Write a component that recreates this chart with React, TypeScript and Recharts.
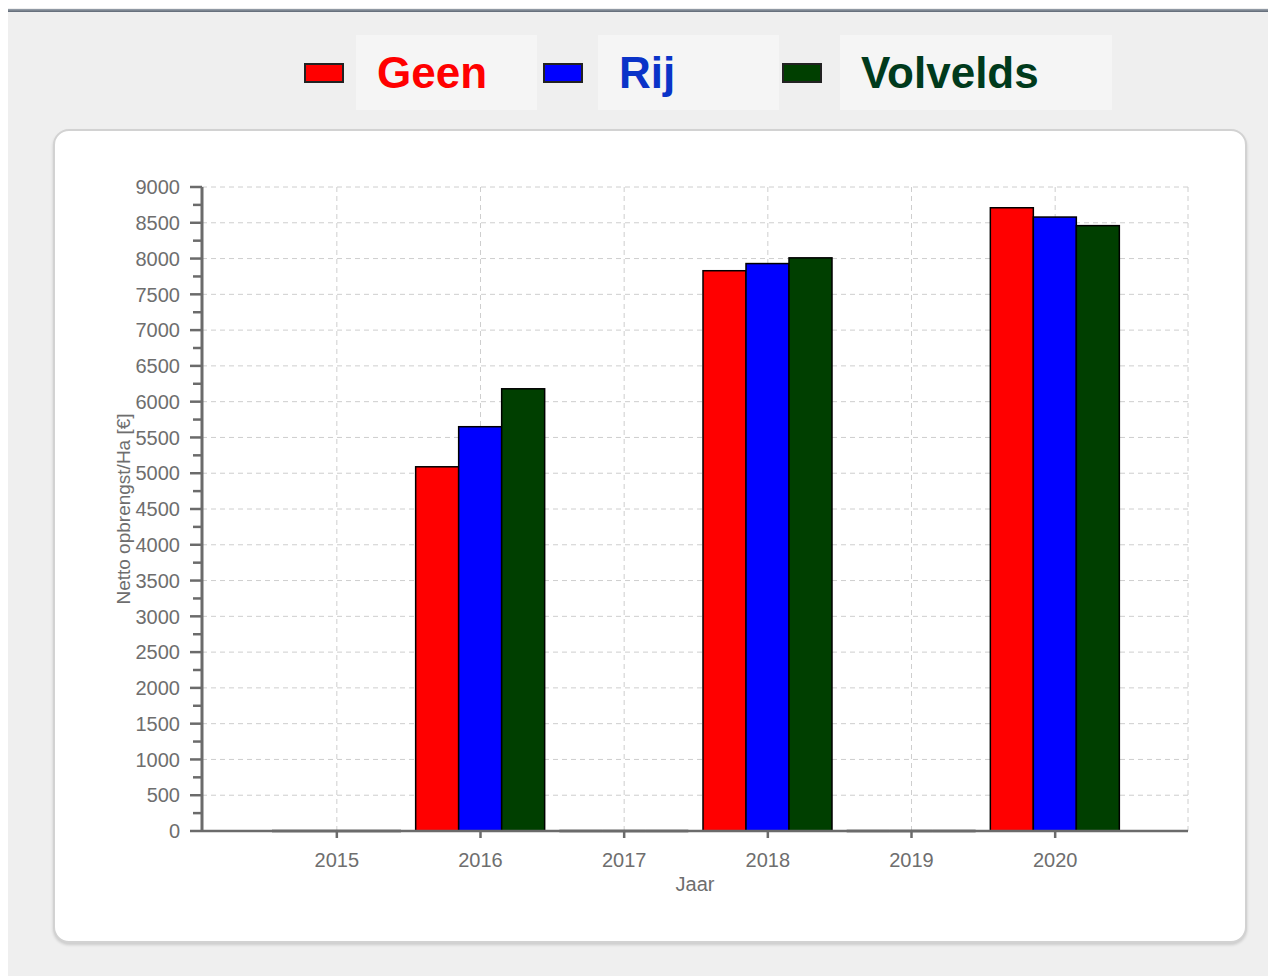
import React from 'react'
import { BarChart, Bar, XAxis, YAxis, CartesianGrid } from 'recharts'

// values (netto opbrengst per ha, euro)
const years = ['2015', '2016', '2017', '2018', '2019', '2020']
const geen = [0, 5090, 0, 7830, 0, 8710]
const rij = [0, 5650, 0, 7930, 0, 8580]
const volvelds = [0, 6180, 0, 8010, 0, 8460]

const majorTicks = [0, 500, 1000, 1500, 2000, 2500, 3000, 3500, 4000, 4500, 5000, 5500, 6000, 6500, 7000, 7500, 8000, 8500, 9000]
const yMax = 9000

const series = [
  { key: 'geen', name: 'Geen', fill: '#ff0000', text: '#ff0000' },
  { key: 'rij', name: 'Rij', fill: '#0000ff', text: '#0a33c8' },
  { key: 'volvelds', name: 'Volvelds', fill: '#003f00', text: '#003a1c' },
]

const data = years.map((year, i) => ({ year, geen: geen[i], rij: rij[i], volvelds: volvelds[i] }))

// minor ticks sit halfway between the labelled ones
const allTicks = majorTicks.flatMap((v, i) => (i === 0 ? [v] : [(majorTicks[i - 1] + v) / 2, v]))

const AXIS = '#6b6b6b'
const TEXT = '#6e6e6e'
const FONT = "'Liberation Sans', Arial, sans-serif"

const YTick = (props: any) => {
  const { x, y, payload } = props
  const major = majorTicks.includes(payload.value)
  return (
    <g>
      <line x1={x - (major ? 12 : 9)} x2={x} y1={y} y2={y} stroke={AXIS} strokeWidth={2.5} />
      {major && (
        <text x={x - 22} y={y} dy="0.36em" textAnchor="end" fill={TEXT} fontSize={20} fontFamily={FONT}>
          {payload.value}
        </text>
      )}
    </g>
  )
}

const BarShape = (props: any) => {
  const { x, y, width, height, fill } = props
  if (!height) {
    return <line x1={x} x2={x + width} y1={y} y2={y} stroke="#2a2a2a" strokeWidth={2.5} />
  }
  return <rect x={x} y={y} width={width} height={height} fill={fill} stroke="#000" strokeWidth={1.5} />
}

const legendPos = [
  { swatch: 296, box: 348, w: 181 },
  { swatch: 535, box: 590, w: 181 },
  { swatch: 774, box: 832, w: 272 },
]

export default function App() {
  return (
    <div style={{ position: 'relative', width: 1268, height: 968, background: '#efefef', overflow: 'hidden', fontFamily: FONT }}>
      <div style={{ position: 'absolute', left: 0, top: 1, width: 1268, height: 3, background: 'linear-gradient(#9aa3ad, #5d6673)' }} />

      {series.map((s, i) => (
        <React.Fragment key={s.key}>
          <div
            style={{
              position: 'absolute', left: legendPos[i].swatch, top: 55, width: 40, height: 20,
              boxSizing: 'border-box', background: s.fill, border: '2px solid #222',
            }}
          />
          <div
            style={{
              position: 'absolute', left: legendPos[i].box, top: 27, width: legendPos[i].w, height: 75,
              background: '#f5f5f5', display: 'flex', alignItems: 'center', paddingLeft: 21, boxSizing: 'border-box',
              color: s.text, fontSize: 44, fontWeight: 'bold',
            }}
          >
            {s.name}
          </div>
        </React.Fragment>
      ))}

      <div
        style={{
          position: 'absolute', left: 45, top: 121, width: 1194, height: 814, boxSizing: 'border-box',
          background: '#fff', border: '2px solid #d2d2d2', borderRadius: 16, boxShadow: '0 2px 3px rgba(0,0,0,0.15)',
        }}
      />

      <div style={{ position: 'absolute', left: 0, top: 0 }}>
        <BarChart width={1268} height={968} data={data} barGap={0} barSize={43}
          margin={{ top: 179, right: 88, bottom: 83, left: 34 }}>
          <CartesianGrid
            stroke="#cecece"
            strokeDasharray="5 4"
            horizontalCoordinatesGenerator={(p: any) => majorTicks.map((v) => p.offset.top + p.offset.height * (1 - v / yMax))}
          />
          <XAxis
            dataKey="year"
            padding={{ left: 63, right: 61 }}
            height={62}
            tickSize={7}
            tickMargin={15}
            axisLine={{ stroke: AXIS, strokeWidth: 2.5 }}
            tickLine={{ stroke: AXIS, strokeWidth: 2.5 }}
            tick={{ fill: TEXT, fontSize: 20, fontFamily: FONT }}
            label={{ value: 'Jaar', position: 'insideBottom', offset: 2, fill: TEXT, fontSize: 20, fontFamily: FONT }}
          />
          <YAxis
            width={160}
            domain={[0, yMax]}
            ticks={allTicks}
            interval={0}
            tickSize={0}
            tickMargin={0}
            tickLine={false}
            axisLine={{ stroke: AXIS, strokeWidth: 3 }}
            tick={<YTick />}
            label={{
              value: 'Netto opbrengst/Ha [€]', angle: -90, position: 'insideLeft', offset: 81,
              fill: TEXT, fontSize: 19, fontFamily: FONT, style: { textAnchor: 'middle' },
            }}
          />
          {series.map((s) => (
            <Bar key={s.key} dataKey={s.key} name={s.name} fill={s.fill} shape={<BarShape />} isAnimationActive={false} />
          ))}
        </BarChart>
      </div>
    </div>
  )
}
